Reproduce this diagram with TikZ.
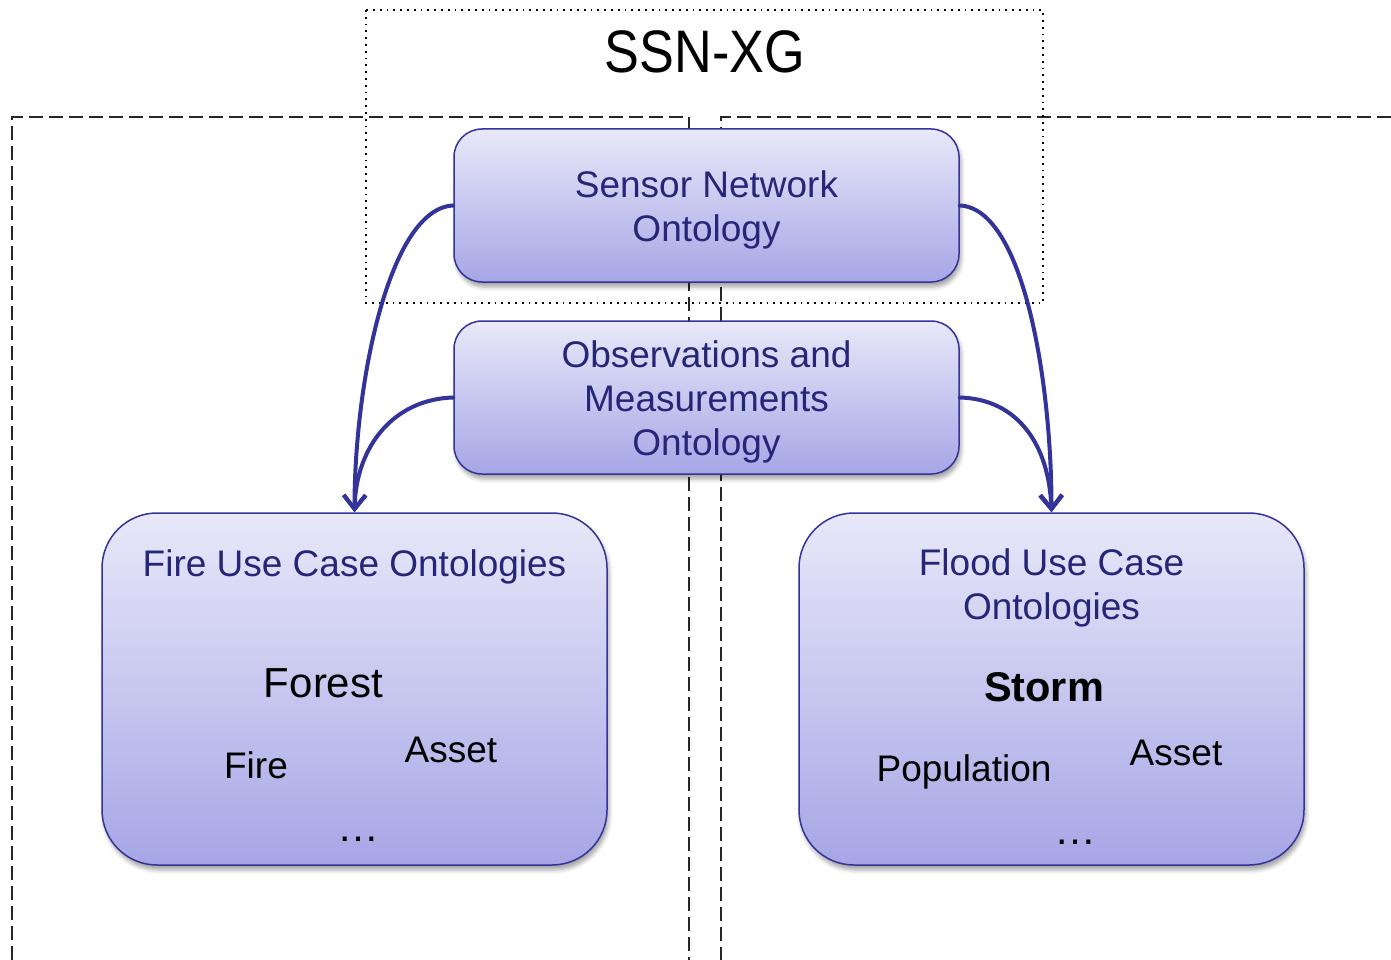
\documentclass[tikz,border=0pt]{standalone}
\usepackage{fontspec}
\usepackage{graphicx}
\setmainfont{Liberation Sans}
\usetikzlibrary{arrows.meta,shadows,shadows.blur}
\definecolor{bborder}{RGB}{51,51,153}
\definecolor{btext}{RGB}{38,38,120}
\definecolor{btop}{RGB}{232,232,249}
\definecolor{bbot}{RGB}{166,166,230}
\begin{document}
\begin{tikzpicture}[x=1pt,y=-1pt,
  ontbox/.style={draw=bborder, line width=1.5pt, top color=btop, bottom color=bbot,
    rounded corners=28pt, minimum width=505pt, minimum height=153pt, inner sep=0pt,
    align=center, text=btext, font=\fontsize{37}{44}\selectfont,
    blur shadow={shadow xshift=2pt, shadow yshift=-5pt, shadow blur radius=4pt, shadow opacity=35}},
  casebox/.style={ontbox, rounded corners=55pt, minimum height=352pt},
  boxtitle/.style={text=btext, font=\fontsize{37}{44}\selectfont, align=center, inner sep=0pt},
  item/.style={text=black, font=\fontsize{37}{44}\selectfont, inner sep=0pt, anchor=base},
  ellip/.style={item, font=\fontsize{42}{48}\selectfont},
  conn/.style={draw=bborder, line width=4pt, line cap=round,
    -{Straight Barb[length=14pt, width=22pt, line width=4pt]}},
  sepline/.style={draw=black!85, line width=1.5pt, dash pattern=on 14pt off 6pt},
  dotline/.style={draw=black, line width=1.8pt, dash pattern=on 1.8pt off 5pt}
]
\useasboundingbox (0,0) rectangle (1391,960);

% separators
\coordinate (la) at (12,960);
\coordinate (lb) at (12,117);
\coordinate (lc) at (689,117);
\coordinate (ld) at (689,960);
\coordinate (ra) at (1391,117);
\coordinate (rb) at (721,117);
\coordinate (rc) at (721,960);
\draw[sepline] (la) -- (lb) -- (lc) -- (ld);
\draw[sepline] (ra) -- (rb) -- (rc);

% SSN-XG dotted frame
\coordinate (xa) at (366,10);
\coordinate (xb) at (1043,303);
\draw[dotline] (xa) rectangle (xb);
\node[inner sep=0pt, font=\fontsize{60}{60}\selectfont] (title) at (705,52) {\scalebox{0.87}[1]{SSN-XG}};

% ontology boxes
\node[ontbox] (sensor) at (706.5,205.5) {\rule{0pt}{35pt}Sensor Network\\Ontology};
\node[ontbox] (obs) at (706.5,397.5) {\rule{0pt}{35pt}Observations and\\Measurements\\Ontology};

\node[casebox] (fire) at (354.5,689) {};
\node[casebox] (flood) at (1051.5,689) {};

% fire content
\node[boxtitle, anchor=base] (firetitle) at (354.5,576) {Fire Use Case Ontologies};
\node[item, font=\fontsize{42}{48}\selectfont] (forest) at (323.5,697) {Forest};
\node[item] (fireitem) at (256,778) {Fire};
\node[item] (asset1) at (451,762) {Asset};
\node[ellip] (dots1) at (358.5,841) {…};

% flood content
\node[boxtitle] (floodtitle) at (1051.5,588) {Flood Use Case\\Ontologies};
\node[item, font=\fontsize{41.5}{48}\selectfont\bfseries] (storm) at (1044,701) {Storm};
\node[item] (population) at (964,781) {Population};
\node[item] (asset2) at (1176,765) {Asset};
\node[ellip] (dots2) at (1075.5,844) {…};

% connectors
\draw[conn] (sensor.west) .. controls (390,208) and (354.5,380) .. (fire.north);
\draw[conn] (obs.west) .. controls (395,399) and (356,445) .. (fire.north);
\draw[conn] (sensor.east) .. controls (1023,208) and (1051.5,380) .. (flood.north);
\draw[conn] (obs.east) .. controls (1018,399) and (1049,445) .. (flood.north);
\end{tikzpicture}
\end{document}
